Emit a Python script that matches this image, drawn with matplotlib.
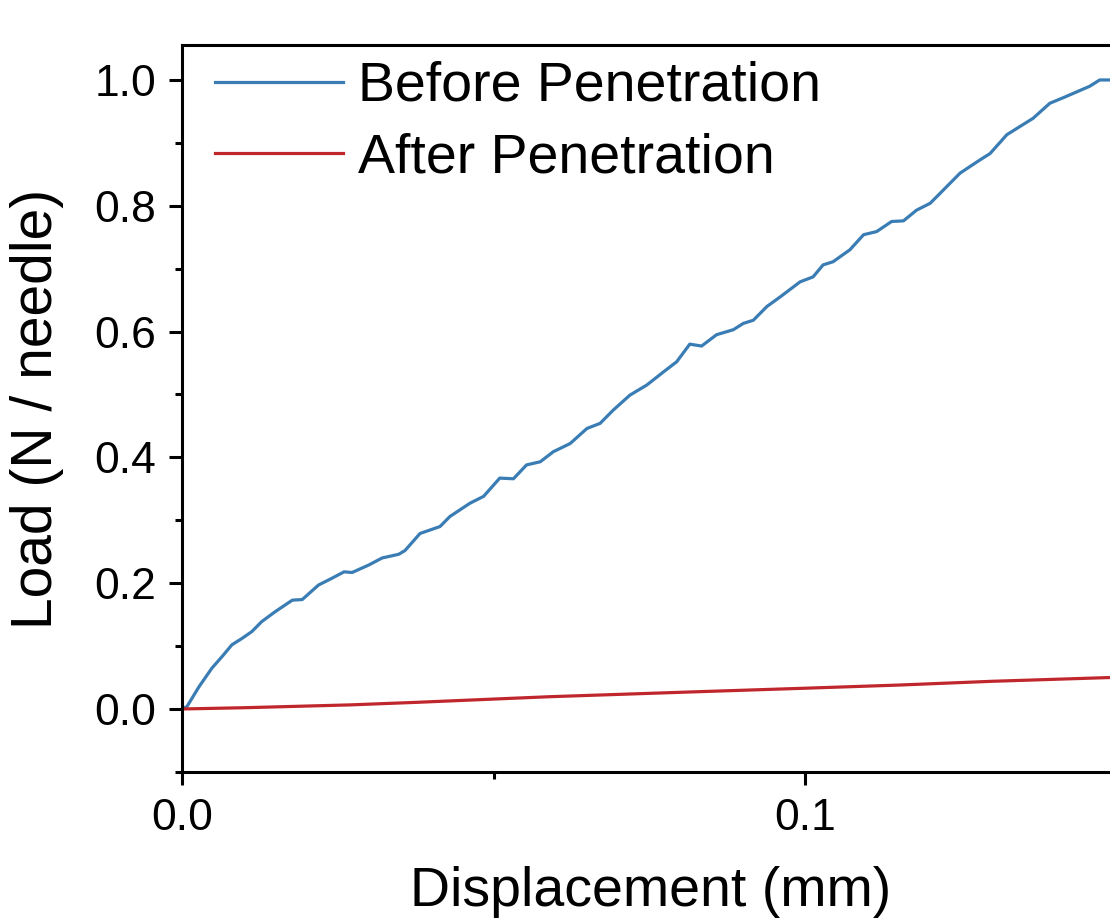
import numpy as np
import matplotlib
matplotlib.use("Agg")
import matplotlib.pyplot as plt
from matplotlib.ticker import MultipleLocator, FormatStrFormatter

plt.rcParams['font.family'] = ['Liberation Sans', 'DejaVu Sans']

# Before penetration
x_before = [0.0, 0.0008, 0.0027, 0.0048, 0.0064, 0.008, 0.0096, 0.0112, 0.0128, 0.015,
            0.0177, 0.0193, 0.0219, 0.0241, 0.026, 0.0273, 0.030, 0.0321, 0.0348, 0.0358,
            0.0382, 0.0414, 0.043, 0.0462, 0.0484, 0.051, 0.0532, 0.0553, 0.0575, 0.0596,
            0.0623, 0.065, 0.0671, 0.0692, 0.0719, 0.0746, 0.0773, 0.0794, 0.0815, 0.0834,
            0.0858, 0.0885, 0.0901, 0.0917, 0.0939, 0.096, 0.0992, 0.1013, 0.1029, 0.1045,
            0.1072, 0.1094, 0.1115, 0.1139, 0.1158, 0.1179, 0.1201, 0.1222, 0.1249, 0.1281,
            0.1297, 0.1324, 0.1345, 0.1366, 0.1393, 0.1415, 0.1436, 0.1457, 0.1473, 0.149]
y_before = [0.0, 0.004, 0.035, 0.065, 0.083, 0.102, 0.112, 0.123, 0.139, 0.155,
            0.173, 0.174, 0.197, 0.208, 0.218, 0.217, 0.229, 0.240, 0.246, 0.252,
            0.279, 0.290, 0.306, 0.327, 0.338, 0.367, 0.366, 0.388, 0.393, 0.409,
            0.422, 0.446, 0.454, 0.475, 0.499, 0.515, 0.536, 0.552, 0.580, 0.577,
            0.595, 0.603, 0.613, 0.618, 0.640, 0.655, 0.679, 0.687, 0.706, 0.711,
            0.730, 0.754, 0.759, 0.775, 0.776, 0.793, 0.804, 0.825, 0.852, 0.873,
            0.883, 0.913, 0.926, 0.939, 0.963, 0.972, 0.981, 0.990, 1.0, 1.0]

# After penetration
x_after = [0.0, 0.01, 0.027, 0.0375, 0.059, 0.083, 0.1, 0.115, 0.13, 0.149]
y_after = [0.0, 0.002, 0.0065, 0.0105, 0.0195, 0.0275, 0.033, 0.038, 0.044, 0.050]

fig = plt.figure(figsize=(11.1, 9.24), dpi=100)
ax = fig.add_axes([0.164, 0.1645, 0.845, 0.7868])

ax.plot(x_before, y_before, color='#3a7db4', lw=2.3, label='Before Penetration')
ax.plot(x_after, y_after, color='#c0272d', lw=2.3, label='After Penetration')

ax.set_xlim(0, 0.15056)
ax.set_ylim(-0.1002, 1.0556)

ax.xaxis.set_major_locator(MultipleLocator(0.1))
ax.xaxis.set_minor_locator(MultipleLocator(0.05))
ax.yaxis.set_major_locator(MultipleLocator(0.2))
ax.yaxis.set_minor_locator(MultipleLocator(0.1))
ax.xaxis.set_major_formatter(FormatStrFormatter('%.1f'))
ax.yaxis.set_major_formatter(FormatStrFormatter('%.1f'))

ax.tick_params(which='major', direction='out', length=9.4, width=2.2, labelsize=32, pad=9)
ax.tick_params(which='minor', direction='out', length=5, width=2.2)
for s in ax.spines.values():
    s.set_linewidth(2.2)

ax.set_xlabel('Displacement (mm)', fontsize=40, labelpad=20)
ax.set_ylabel('Load (N / needle)', fontsize=41, labelpad=22)

ax.legend(loc='upper left', bbox_to_anchor=(0.035, 0.978), frameon=False, fontsize=40,
          handlelength=2.3, handletextpad=0.27, labelspacing=0.35,
          borderpad=0, borderaxespad=0)

fig.savefig('out.png', dpi=100)
